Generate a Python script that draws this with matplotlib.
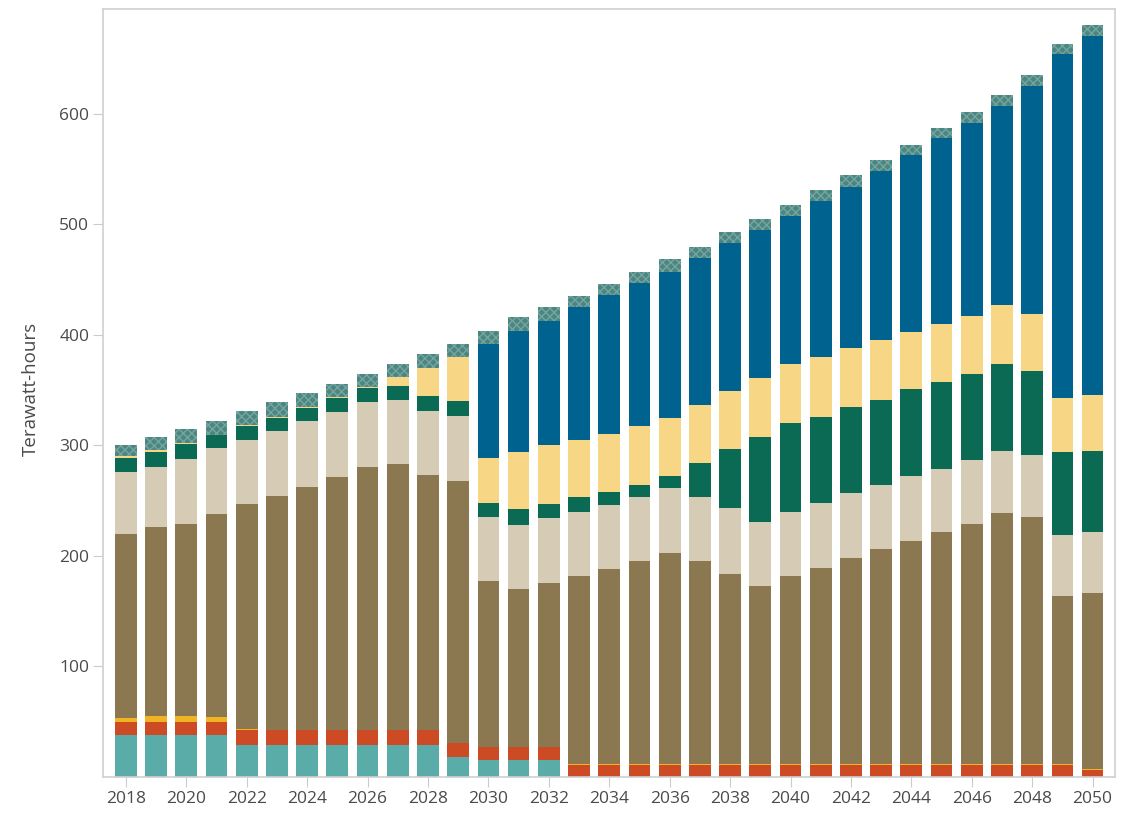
import matplotlib
matplotlib.use('Agg')
import matplotlib.pyplot as plt
import numpy as np

plt.rcParams['font.family'] = ['Open Sans', 'DejaVu Sans']
plt.rcParams['hatch.linewidth'] = 1.0

years = list(range(2018, 2051))

# layer values (TWh), bottom to top
teal = [38, 38, 38, 38, 29, 29, 29, 29, 29, 29, 29, 18, 15, 15, 15,
        0, 0, 0, 0, 0, 0, 0, 0, 0, 0, 0, 0, 0, 0, 0, 0, 0, 0]
red = [12, 12, 12, 12, 13, 13, 13, 13, 13, 13, 13, 13, 12, 12, 12,
       11, 11, 11, 11, 11, 11, 11, 11, 11, 11, 11, 11, 11, 11, 11, 11, 11, 6]
orange = [3, 5, 5, 4, 1, 0, 0, 0, 0, 0, 0, 0, 0, 0, 0,
          1, 1, 1, 1, 1, 1, 1, 1, 1, 1, 1, 1, 1, 1, 1, 1, 1, 1]
brown = [167, 171, 174, 184, 204, 212, 220, 229, 238, 241, 231, 237, 150, 143, 148,
         170, 176, 183, 191, 183, 172, 161, 170, 177, 186, 194, 201, 210, 217, 227, 223, 152, 159]
beige = [56, 54, 59, 60, 58, 59, 60, 59, 59, 58, 58, 59, 58, 58, 59,
         58, 58, 58, 58, 58, 59, 58, 58, 59, 59, 58, 59, 57, 58, 56, 56, 55, 56]
green = [13, 14, 13, 11, 13, 12, 12, 13, 13, 13, 13.5, 13.5, 13, 14, 13,
         13, 12, 11, 11, 31, 54, 77, 80, 78, 78, 77, 79, 78, 78, 79, 76, 75, 73]
yellow = [1.5, 1.5, 1.5, 0.5, 0.5, 0.5, 0.5, 0.5, 0.5, 7.5, 26, 39.5, 41, 52, 53,
          52, 52, 54, 53, 53, 52, 53, 54, 54, 53, 54, 52, 53, 52, 53, 52, 49, 51]
blue = [0, 0, 0, 0, 0, 0, 0, 0, 0, 0, 0, 0, 103, 110, 113,
        120, 126, 129, 132, 133, 134, 134, 134, 141, 146, 153, 160, 168, 175, 180, 206, 311, 325]
hatched = [10, 12, 12, 13, 13, 13.5, 12.5, 12, 12, 12, 12.5, 12, 12, 12, 12,
           10, 10, 10, 12, 10, 10, 10, 10, 10, 11, 10.5, 9, 9, 10, 10.5, 10, 9, 10]

layers = [teal, red, orange, brown, beige, green, yellow, blue]
colors = ['#5aaca8', '#cc4b24', '#f0b323', '#8b7750', '#d6cbb5',
          '#0b6a54', '#f7d686', '#00628f']

fig = plt.figure(figsize=(11.22, 8.22), dpi=100)
ax = fig.add_axes([0.092, 0.055, 0.902, 0.934])

bottom = np.zeros(len(years))
for vals, c in zip(layers, colors):
    ax.bar(years, vals, width=0.72, bottom=bottom, color=c, linewidth=0)
    bottom += np.array(vals)

# top layer with a fine hatch
ax.bar(years, hatched, width=0.72, bottom=bottom, facecolor='#4d8581',
       edgecolor='#74a6a1', hatch='xxxx', linewidth=0)

ax.set_xlim(2017.25, 2050.75)
ax.set_ylim(0, 695)
ax.set_xticks(range(2018, 2051, 2))
ax.set_yticks([100, 200, 300, 400, 500, 600])
ax.tick_params(axis='both', labelsize=12.5, colors='#cccccc', labelcolor='#4a4a4a',
               length=7, width=0.8, pad=3)
ax.set_ylabel('Terawatt-hours', fontsize=13.5, color='#4a4a4a')
ax.yaxis.set_label_coords(-0.063, 0.505)

for s in ax.spines.values():
    s.set_color('#d0d0d0')
    s.set_linewidth(1.2)

fig.savefig('out.png', dpi=100)
